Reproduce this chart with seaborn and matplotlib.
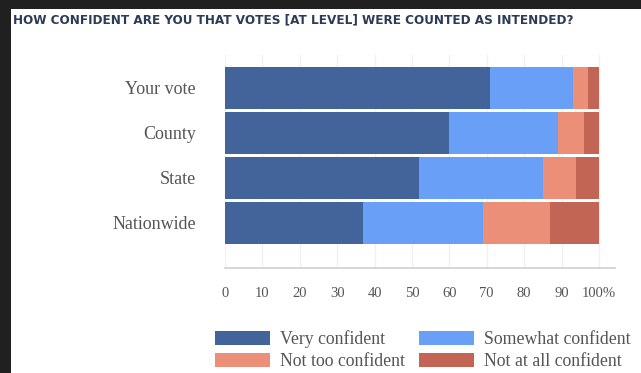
import numpy as np
import pandas as pd
import matplotlib.pyplot as plt
import matplotlib.patches as mpatches
import seaborn as sns

# Data (percent of respondents)
levels = ["Your vote", "County", "State", "Nationwide"]
very_confident = [71, 60, 52, 37]
somewhat_confident = [22, 29, 33, 32]
not_too_confident = [4, 7, 9, 18]
not_at_all_confident = [3, 4, 6, 13]

series_names = ["Very confident", "Somewhat confident",
                "Not too confident", "Not at all confident"]
series_colors = ["#43649a", "#6a9ff8", "#eb8f79", "#c26555"]
xticks = [0, 10, 20, 30, 40, 50, 60, 70, 80, 90, 100]
xtick_labels = ["0", "10", "20", "30", "40", "50", "60", "70", "80", "90", "100%"]
title = "HOW CONFIDENT ARE YOU THAT VOTES [AT LEVEL] WERE COUNTED AS INTENDED?"

sns.set_style("white")
plt.rcParams["font.family"] = ["Liberation Serif", "DejaVu Serif"]

W, H = 641, 373
fig = plt.figure(figsize=(W / 100, H / 100), dpi=100, facecolor="#202020")

# white panel of the screenshot
fig.patches.append(mpatches.Rectangle((11 / W, 0), 1 - 11 / W, 1 - 9 / H,
                                      transform=fig.transFigure,
                                      facecolor="white", edgecolor="none",
                                      zorder=-10))

ax = fig.add_axes([225 / W, 1 - 268 / H, 390 / W, 213 / H])
ax.set_facecolor("none")

df = pd.DataFrame({
    "level": levels,
    "very": very_confident,
    "somewhat": somewhat_confident,
    "not_too": not_too_confident,
    "not_at_all": not_at_all_confident,
})
cols = ["very", "somewhat", "not_too", "not_at_all"]
cum = df[cols].cumsum(axis=1)

# draw cumulative bars from the longest to the shortest so they stack
for col, color in reversed(list(zip(cols, series_colors))):
    sns.barplot(x=cum[col], y=df["level"], color=color, width=0.93,
                orient="h", linewidth=0, saturation=1, ax=ax)

ax.set_xlim(0, 104.3)
ax.set_ylim(4.0, -0.733)
ax.set_xticks(xticks)
ax.set_xticklabels(xtick_labels)
ax.set_xlabel("")
ax.set_ylabel("")
ax.xaxis.grid(True, color="#f0f0f0", linewidth=1)
ax.set_axisbelow(True)
for side in ["top", "right", "left"]:
    ax.spines[side].set_visible(False)
ax.spines["bottom"].set_color("#cfcfcf")
ax.spines["bottom"].set_linewidth(1.2)
ax.tick_params(axis="x", length=0, pad=14, labelsize=10.5, labelcolor="#555555")
ax.tick_params(axis="y", length=0, pad=21, labelsize=13, labelcolor="#555555")

fig.text(13 / W, 1 - 20 / H, title, ha="left", va="center",
         family="DejaVu Sans", fontstretch="condensed", fontweight="bold",
         fontsize=9.6, color="#2d3b55")

# legend is filled column by column, so order entries to read row-wise
order = [0, 2, 1, 3]
handles = [mpatches.Patch(facecolor=series_colors[i], edgecolor="none") for i in order]
labels = [series_names[i] for i in order]
leg = fig.legend(handles, labels, loc="upper left",
                 bbox_to_anchor=(215 / W, 1 - 330 / H), ncol=2, frameon=False,
                 fontsize=12.8, handlelength=3.09, handleheight=0.84,
                 handletextpad=0.56, columnspacing=0.79, labelspacing=0.3,
                 borderpad=0, borderaxespad=0)
for t in leg.get_texts():
    t.set_color("#555555")

fig.savefig("out.png", dpi=100, facecolor=fig.get_facecolor())
